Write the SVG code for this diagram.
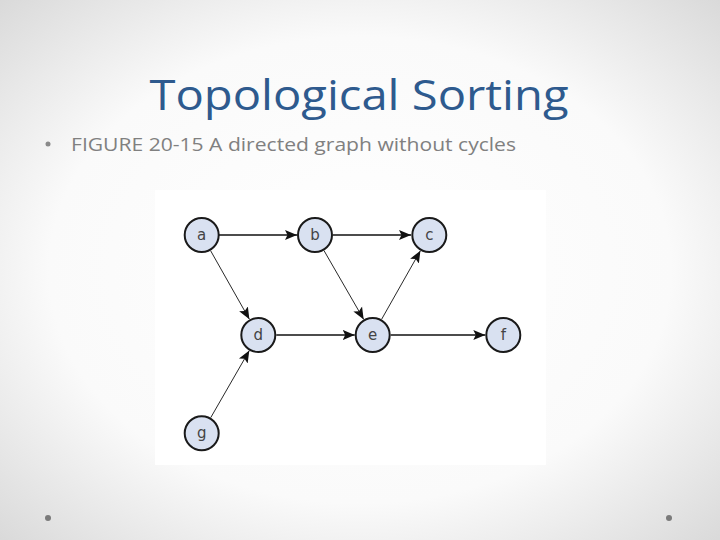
<svg xmlns="http://www.w3.org/2000/svg" width="720" height="540" viewBox="0 0 720 540">
  <defs>
    <radialGradient id="bg" cx="50%" cy="50%" r="72%">
      <stop offset="0" stop-color="#ffffff"/>
      <stop offset="0.6" stop-color="#fafafa"/>
      <stop offset="1" stop-color="#d8d8d8"/>
    </radialGradient>
    <marker id="arr" markerUnits="userSpaceOnUse" markerWidth="14" markerHeight="12" refX="12" refY="5" orient="auto" viewBox="0 0 14 10">
      <path d="M0,0 L12,5 L0,10 L2.5,5 Z" fill="#111"/>
    </marker>
    <style>
      .node circle { fill: #d9e1f1; stroke: #1a1a1a; stroke-width: 2; }
      .node text { font-family: "DejaVu Sans", "Liberation Sans", sans-serif; font-size: 15px; fill: #444; text-anchor: middle; }
      .edge { stroke: #111; fill: none; marker-end: url(#arr); }
      .h { stroke-width: 1.3; }
      .d { stroke-width: 0.9; }
    </style>
  </defs>
  <rect x="0" y="0" width="720" height="540" fill="url(#bg)"/>
  <text x="359" y="110" font-family="Open Sans, 'Noto Sans', sans-serif" font-size="42" fill="#2e5a8e" text-anchor="middle" textLength="419" lengthAdjust="spacingAndGlyphs">Topological Sorting</text>
  <circle cx="48" cy="144" r="2.5" fill="#8a8a8a"/>
  <text x="71" y="151" font-family="Open Sans, 'Noto Sans', sans-serif" font-size="18" fill="#808080" textLength="445" lengthAdjust="spacingAndGlyphs">FIGURE 20-15 A directed graph without cycles</text>
  <rect x="155" y="190" width="391" height="275" fill="#ffffff"/>
  <g id="connectors">
    <line class="edge h" x1="219" y1="235" x2="297" y2="235"/>
    <line class="edge h" x1="333" y1="235" x2="411" y2="235"/>
    <line class="edge d" x1="210.6" y1="250.7" x2="249.4" y2="319.3"/>
    <line class="edge d" x1="324" y1="250.6" x2="363.7" y2="319.4"/>
    <line class="edge d" x1="381.6" y1="319.3" x2="420.4" y2="250.7"/>
    <line class="edge h" x1="276.3" y1="335" x2="354.7" y2="335"/>
    <line class="edge h" x1="390.7" y1="335" x2="485.3" y2="335"/>
    <line class="edge d" x1="210.7" y1="417.7" x2="249.3" y2="350.6"/>
  </g>
  <g id="node-a" class="node"><circle cx="201.7" cy="235" r="17"/><text x="201.7" y="240">a</text></g>
  <g id="node-b" class="node"><circle cx="315" cy="235" r="17"/><text x="315" y="240">b</text></g>
  <g id="node-c" class="node"><circle cx="429.3" cy="235" r="17"/><text x="429.3" y="240">c</text></g>
  <g id="node-d" class="node"><circle cx="258.3" cy="335" r="17"/><text x="258.3" y="340">d</text></g>
  <g id="node-e" class="node"><circle cx="372.7" cy="335" r="17"/><text x="372.7" y="340">e</text></g>
  <g id="node-f" class="node"><circle cx="503.3" cy="335" r="17"/><text x="503.3" y="340">f</text></g>
  <g id="node-g" class="node"><circle cx="201.7" cy="433.3" r="17"/><text x="201.7" y="438">g</text></g>
  <circle cx="48" cy="518" r="3" fill="#7a7a7a"/>
  <circle cx="669" cy="518" r="3" fill="#7a7a7a"/>
</svg>
